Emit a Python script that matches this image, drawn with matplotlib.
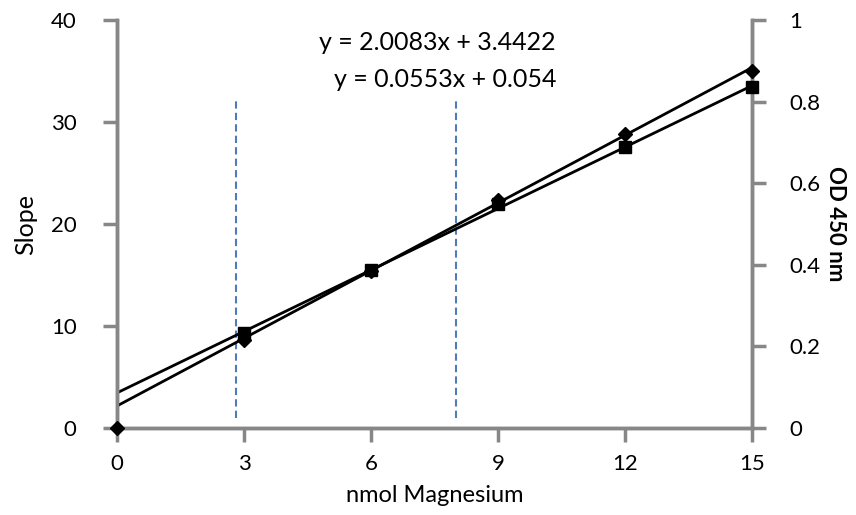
import numpy as np
import matplotlib.pyplot as plt

# DATA
nmol = [0, 3, 6, 9, 12, 15]
slope_x = [3, 6, 9, 12, 15]
slope_vals = [9.3, 15.5, 22.0, 27.6, 33.4]
od_vals = [0.0, 0.215, 0.385, 0.56, 0.72, 0.876]

slope_fit = (2.0083, 3.4422)
od_fit = (0.0553, 0.054)
marker_lines = [2.8, 8.0]

x_ticks = [0, 3, 6, 9, 12, 15]
left_ticks = [0, 10, 20, 30, 40]
right_ticks = [0, 0.2, 0.4, 0.6, 0.8, 1]
right_labels = ["0", "0.2", "0.4", "0.6", "0.8", "1"]

plt.rcParams["font.family"] = ["Lato", "DejaVu Sans"]
GRAY = "#878787"

fig = plt.figure(figsize=(8.56, 5.15), dpi=100)
ax = fig.add_axes([0.1367, 0.169, 0.7418, 0.792])
ax2 = ax.twinx()

ax.set_xlim(0, 15)
ax.set_ylim(0, 40)
ax2.set_ylim(0, 1)

# dashed guide lines
for xv in marker_lines:
    ax.plot([xv, xv], [1.0, 32.2], color="#4F7CB8", lw=1.5, ls=(0, (3.5, 2)))

# trendlines
xs = np.array([0, 15])
ax.plot(xs, slope_fit[0] * xs + slope_fit[1], color="black", lw=2)
ax2.plot(xs, od_fit[0] * xs + od_fit[1], color="black", lw=2)

# markers (both drawn on the top axes so they sit over the spines)
ax2.plot(slope_x, slope_vals, ls="none", marker="s", ms=8, color="black",
         clip_on=False, zorder=5, transform=ax.transData)
ax2.plot(nmol, od_vals, ls="none", marker="D", ms=7, color="black", clip_on=False, zorder=5)

# equations
fig.text(556 / 856, 1 - 43 / 515, "y = 2.0083x + 3.4422", fontsize=18, ha="right", va="center")
fig.text(556 / 856, 1 - 80 / 515, "y = 0.0553x + 0.054", fontsize=18, ha="right", va="center")

for a in (ax, ax2):
    a.spines["top"].set_visible(False)
    for side in ("left", "right", "bottom"):
        a.spines[side].set_color(GRAY)
        a.spines[side].set_linewidth(2.5)
    a.tick_params(colors=GRAY, width=2.5, length=10, labelsize=16, labelcolor="black")

ax.set_xticks(x_ticks)
ax.set_yticks(left_ticks)
ax2.set_yticks(right_ticks)
ax2.set_yticklabels(right_labels)
ax.tick_params(axis="x", pad=9)
ax.tick_params(axis="y", pad=19)
ax2.tick_params(axis="y", pad=17)

ax.set_xlabel("nmol Magnesium", fontsize=17, labelpad=8)
ax.set_ylabel("Slope", fontsize=18, labelpad=10)
ax2.set_ylabel("OD 450 nm", fontsize=16, fontweight="bold", rotation=-90, labelpad=18)

fig.savefig("out.png", dpi=100)
